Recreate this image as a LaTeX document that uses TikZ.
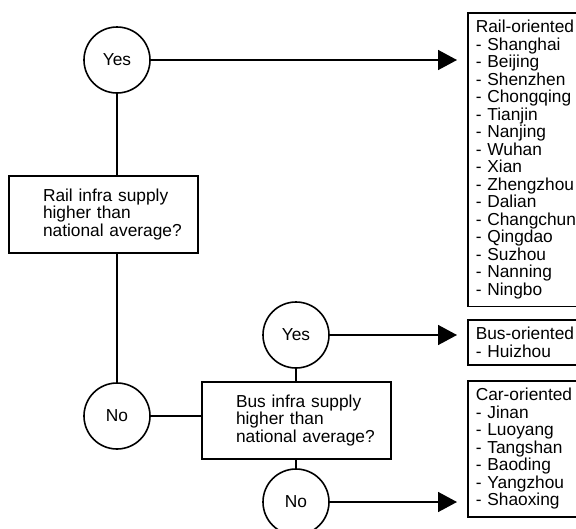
\documentclass[tikz,border=0pt]{standalone}
\usepackage{fontspec}
\setmainfont{Liberation Sans}
\usetikzlibrary{arrows.meta,positioning,calc}
\tikzset{
  every picture/.style={line width=1.2pt},
  ans/.style={circle, draw, minimum size=49.5pt, inner sep=0pt,
              font=\fontsize{13pt}{13.125pt}\selectfont},
  qbox/.style={draw, rectangle, text width=120.75pt, inner xsep=10.5pt,
               minimum height=57.75pt, align=left,
               font=\fontsize{13pt}{13.125pt}\selectfont,
               execute at begin node={\leftskip=15pt}},
  outbox/.style={draw, rectangle, anchor=north west, text width=82.5pt,
                 inner xsep=6pt, inner ysep=5.6pt, align=left,
                 font=\fontsize{13pt}{13.125pt}\selectfont},
  arr/.style={-{Triangle[length=14.25pt,width=15pt]}, shorten >=7.5pt},
}

\begin{document}
\begin{tikzpicture}[x=0.75pt, y=-0.75pt]
  % the right edge of the result boxes is cut off, as in the source
  \useasboundingbox (0,0) rectangle (576,529);
  \clip (0,0) rectangle (576,529);

  \node[ans] (yes1) at (117,60) {Yes};
  \node[qbox] (railq) at (103.5,214.5)
        {Rail infra supply\\higher than\\national average?};
  \node[ans] (no1) at (117,416) {No};
  \node[qbox] (busq) at (296.5,420.5)
        {Bus infra supply\\higher than\\national average?};
  \node[ans] (yes2) at (296,335) {Yes};
  \node[ans] (no2) at (296,502) {No};

  \node[outbox] (rail) at (467,12)
        {Rail-oriented\\- Shanghai\\- Beijing\\- Shenzhen\\- Chongqing\\
         - Tianjin\\- Nanjing\\- Wuhan\\- Xian\\- Zhengzhou\\- Dalian\\
         - Changchun\\- Qingdao\\- Suzhou\\- Nanning\\- Ningbo};
  \node[outbox] (bus) at (467,319) {Bus-oriented\\- Huizhou};
  \node[outbox] (car) at (467,380)
        {Car-oriented\\- Jinan\\- Luoyang\\- Tangshan\\- Baoding\\
         - Yangzhou\\- Shaoxing};

  % tree lines
  \draw (yes1) -- (yes1 |- railq.north);
  \draw (railq.south -| no1) -- (no1);
  \draw (no1) -- (no1 -| busq.west);
  \draw (yes2) -- (yes2 |- busq.north);
  \draw (busq.south -| no2) -- (no2);

  % results
  \draw[arr] (yes1) -- (yes1 -| rail.west);
  \draw[arr] (yes2) -- (yes2 -| bus.west);
  \draw[arr] (no2) -- (no2 -| car.west);
\end{tikzpicture}
\end{document}
